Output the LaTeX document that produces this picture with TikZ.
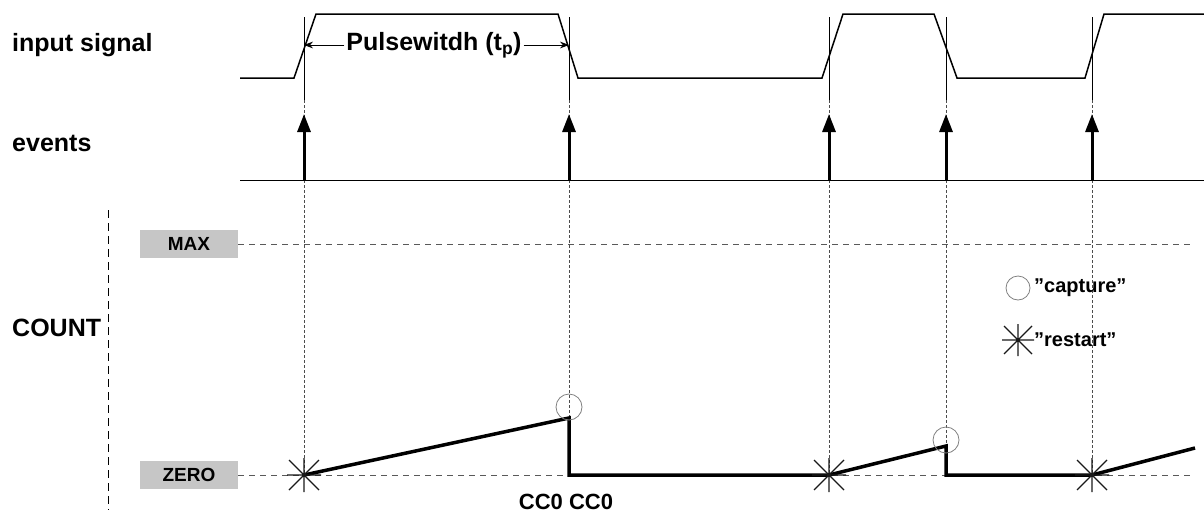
\documentclass[tikz,border=0pt]{standalone}
\usepackage{fontspec}
\setmainfont{Liberation Sans}
\usetikzlibrary{arrows.meta}
\begin{document}
\begin{tikzpicture}[x=1pt,y=-1pt,
  lbl/.style={font=\fontsize{25}{30}\selectfont\bfseries,inner sep=0},
  vguide/.style={densely dashed,line width=0.5pt,gray!60!black},
  hguide/.style={dash pattern=on 6pt off 5pt,line width=0.6pt,gray!70!black},
  sig/.style={line width=1.5pt},
  cnt/.style={line width=3.5pt},
  evt/.style={line width=3pt,-{Triangle[length=18pt,width=13pt]}},
  box/.style={fill=gray!45,minimum width=98pt,minimum height=28pt,inner sep=0,font=\fontsize{19}{22}\selectfont\bfseries},
  capc/.style={circle,draw=gray,minimum size=26pt,inner sep=0,line width=0.8pt}
]
\useasboundingbox (0,0) rectangle (1204,520);
% labels
\node[lbl,anchor=west] (lin) at (12,45) {input signal};
\node[lbl,anchor=west] (lev) at (12,143) {events};
\node[lbl,anchor=west] (lcount) at (12,328) {COUNT};
\draw[dash pattern=on 8pt off 5pt,line width=0.6pt] (108,210) -- (108,510);
% input signal
\draw[sig] (240,78) -- (294,78) -- (316,14) -- (558,14) -- (578,78) -- (822,78) -- (843,14) -- (934,14) -- (957,78) -- (1085,78) -- (1104,14) -- (1204,14);
% guides
\foreach \x in {304,569,829,946,1092} {
  \draw[line width=0.5pt] (\x,17) -- (\x,100);
  \draw[vguide] (\x,100) -- (\x,475);
}
% pulse width
\node[lbl,fill=white,inner xsep=2pt] (pw) at (434,45) {Pulsewitdh (t\textsubscript{p})};
\draw[-{Stealth[length=9pt]},line width=0.9pt] (pw.west) -- (304,45);
\draw[-{Stealth[length=9pt]},line width=0.9pt] (pw.east) -- (569,45);
% events
\draw[line width=1pt] (240,180) -- (1204,180);
\foreach \x in {304,569,829,946,1092} \draw[evt] (\x,180) -- (\x,114);
% MAX / ZERO
\node[box] (max) at (189,244) {MAX};
\node[box] (zero) at (189,475) {ZERO};
\draw[hguide] (max.east) -- (1195,244);
\draw[hguide] (zero.east) -- (1195,475);
% count
\draw[cnt,line join=miter] (304,475) -- (569,418) -- (569,475) -- (829,475) -- (946,446) -- (946,475) -- (1092,475) -- (1195,448);
\node[capc] (c1) at (569,407) {};
\node[capc] (c2) at (946,440) {};
\foreach \x in {304,829,1092} {
  \draw[line width=1.3pt,gray!20!black] (\x-17,475) -- (\x+17,475) (\x,458) -- (\x,492) (\x-15,460) -- (\x+15,490) (\x-15,490) -- (\x+15,460);
}
% legend
\node[capc,minimum size=24pt] (lc) at (1018,288) {};
\node[lbl,font=\fontsize{20}{24}\selectfont\bfseries,anchor=west] (lct) at (1034,288) {\char34capture\char34};
\draw[line width=1.3pt,gray!20!black] (1002,340) -- (1034,340) (1018,324) -- (1018,356) (1004,326) -- (1032,354) (1004,354) -- (1032,326);
\node[lbl,font=\fontsize{20}{24}\selectfont\bfseries,anchor=west] (lrt) at (1034,340) {\char34restart\char34};
\node[lbl,font=\fontsize{22}{26}\selectfont\bfseries] (cc) at (566,502) {CC0 CC0};
\end{tikzpicture}
\end{document}
